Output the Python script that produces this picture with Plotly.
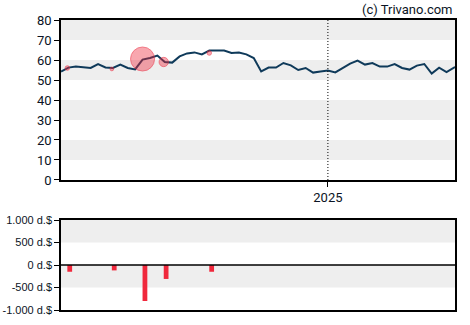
import datetime as dt
import plotly.graph_objects as go

# ---- data ----
start = dt.date(2024, 4, 24)
price = [54.2, 56.2, 56.7, 56.3, 56.0, 58.0, 56.3, 56.0, 57.7, 56.0,
         55.3, 60.2, 61.0, 62.2, 59.0, 58.7, 61.8, 63.3, 63.8, 62.8,
         64.7, 64.7, 64.7, 63.5, 63.7, 62.8, 61.0, 54.3, 56.2, 56.2,
         58.5, 57.3, 55.0, 56.0, 53.7, 54.3, 54.7, 53.8, 56.0, 58.2,
         59.7, 57.7, 58.5, 56.7, 56.7, 58.0, 56.0, 55.2, 57.2, 58.0,
         53.2, 56.2, 54.0, 56.2, 57.5]
price_dates = [start + dt.timedelta(days=7 * i) for i in range(len(price))]

trade_dates = ["2024-04-30", "2024-06-11", "2024-07-10", "2024-07-30", "2024-09-11"]
trade_price = [56.0, 55.5, 60.5, 59.0, 63.5]
trade_value = [-150, -120, -800, -310, -150]   # thousand $

price_ticks = [0, 10, 20, 30, 40, 50, 60, 70, 80]
value_tickvals = [1000, 500, 0, -500, -1000]
value_ticktext = ["1.000 d.$", "500 d.$", "0 d.$", "-500 d.$", "-1.000 d.$"]
x_range = ["2024-04-24", "2025-05-01"]
year_marker = "2025-01-01"

# ---- figure ----
TXT = "#0b1424"
fig = go.Figure()

fig.add_trace(go.Scatter(
    x=price_dates, y=price, mode="lines",
    line=dict(color="#0f3a5a", width=2), xaxis="x", yaxis="y",
    hoverinfo="skip"))

fig.add_trace(go.Scatter(
    x=trade_dates, y=trade_price, mode="markers",
    marker=dict(size=[abs(v) * 0.03 for v in trade_value], sizemode="diameter",
                color="rgba(240,40,60,0.58)",
                line=dict(color="rgba(235,40,60,0.8)", width=1)),
    xaxis="x", yaxis="y", hoverinfo="skip"))

fig.add_trace(go.Bar(
    x=trade_dates, y=trade_value, marker=dict(color="#f0283c", line=dict(width=0)),
    width=4.5 * 86400000, offset=0, xaxis="x2", yaxis="y2", hoverinfo="skip"))

shapes = []
# alternating bands, top chart
for lo in range(0, 80, 10):
    if (lo // 10) % 2 == 1:
        shapes.append(dict(type="rect", xref="x domain", yref="y", x0=0, x1=1,
                           y0=lo, y1=lo + 10, fillcolor="#eeeeee",
                           line=dict(width=0), layer="below"))
# bottom chart bands
for lo, hi in [(500, 1000), (-500, 0)]:
    shapes.append(dict(type="rect", xref="x2 domain", yref="y2", x0=0, x1=1,
                       y0=lo, y1=hi, fillcolor="#eeeeee",
                       line=dict(width=0), layer="below"))
# year marker
shapes.append(dict(type="line", xref="x", yref="y domain", x0=year_marker,
                   x1=year_marker, y0=0, y1=1,
                   line=dict(color="black", width=1, dash="1px,2px")))
# zero line bottom
shapes.append(dict(type="line", xref="x2 domain", yref="y2", x0=0, x1=1,
                   y0=0, y1=0, line=dict(color="black", width=1.5)))

axis_common = dict(showgrid=False, zeroline=False, showline=True,
                   linecolor="black", linewidth=1.5, mirror=True,
                   ticks="outside", ticklen=5, tickcolor="black",
                   automargin=False)

fig.update_layout(
    width=470, height=325,
    margin=dict(l=61, r=15, t=20, b=15, autoexpand=False),
    paper_bgcolor="white", plot_bgcolor="white",
    showlegend=False,
    shapes=shapes,
    xaxis=dict(domain=[0, 1], anchor="y", type="date", range=x_range,
               tickvals=[year_marker], ticktext=["2025"],
               tickfont=dict(family="Roboto", size=13, color=TXT), **axis_common),
    yaxis=dict(domain=[0.4483, 1], anchor="x", range=[0, 80],
               tickvals=price_ticks,
               tickfont=dict(family="Roboto", size=13, color=TXT), **axis_common),
    xaxis2=dict(domain=[0, 1], anchor="y2", type="date", range=x_range,
                showticklabels=False, showgrid=False, zeroline=False,
                showline=True, linecolor="black", linewidth=1.5, mirror=True,
                ticks="", automargin=False),
    yaxis2=dict(domain=[0, 0.3103], anchor="x2", range=[-1000, 1000],
                tickvals=value_tickvals, ticktext=value_ticktext,
                tickfont=dict(family="Liberation Sans", size=11, color=TXT),
                **axis_common),
    annotations=[dict(text="(c) Trivano.com", xref="paper", yref="paper",
                      x=1, y=1, yshift=1, xanchor="right", yanchor="bottom",
                      showarrow=False,
                      font=dict(family="Roboto", size=13, color=TXT))],
)

fig.write_html("out.html")
